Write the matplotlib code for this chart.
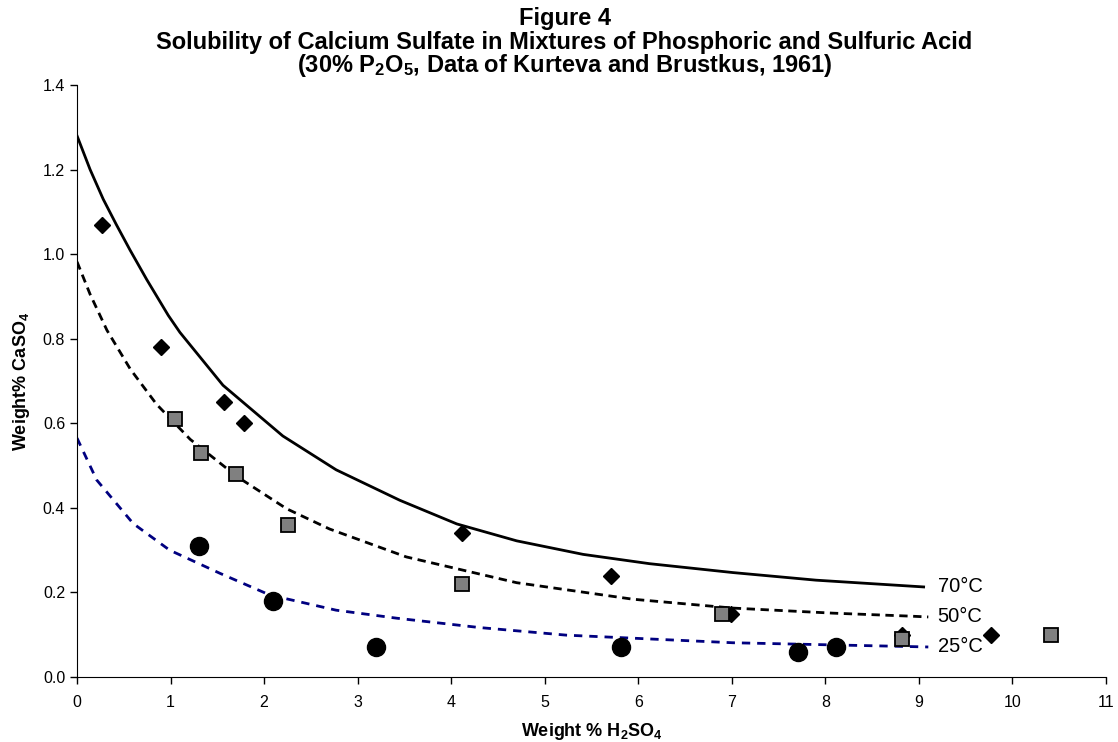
import matplotlib
matplotlib.use('Agg')
import matplotlib.pyplot as plt

plt.rcParams['font.family'] = ['Liberation Sans', 'DejaVu Sans']
plt.rcParams['mathtext.fontset'] = 'custom'
plt.rcParams['mathtext.rm'] = 'Liberation Sans:bold'
plt.rcParams['mathtext.default'] = 'rm'

# measured points (weight % H2SO4, weight % CaSO4)
x70 = [0.27, 0.90, 1.57, 1.78, 4.11, 5.71, 6.99, 8.82, 9.77]
y70 = [1.07, 0.78, 0.65, 0.60, 0.34, 0.24, 0.15, 0.10, 0.10]

x50 = [1.05, 1.32, 1.70, 2.25, 4.11, 6.90, 8.82, 10.41]
y50 = [0.61, 0.53, 0.48, 0.36, 0.22, 0.15, 0.09, 0.10]

x25 = [1.30, 2.10, 3.20, 5.81, 7.71, 8.11]
y25 = [0.31, 0.18, 0.07, 0.07, 0.06, 0.07]

# trend curves
cx70 = [0, 0.14, 0.28, 0.42, 0.566, 0.745, 0.976, 1.10, 1.56, 2.20, 2.77,
        3.45, 4.06, 4.70, 5.41, 6.12, 7.01, 7.9, 9.05]
cy70 = [1.28, 1.20, 1.13, 1.07, 1.01, 0.94, 0.855, 0.815, 0.69, 0.57, 0.49,
        0.418, 0.362, 0.322, 0.290, 0.268, 0.247, 0.229, 0.213]

cx50 = [0, 0.14, 0.32, 0.57, 0.85, 1.21, 1.71, 2.24, 2.70, 3.52, 4.70, 5.94,
        7.01, 8.08, 8.90, 9.1]
cy50 = [0.982, 0.905, 0.82, 0.728, 0.645, 0.562, 0.474, 0.398, 0.35, 0.284,
        0.223, 0.184, 0.163, 0.151, 0.144, 0.142]

cx25 = [0, 0.21, 0.60, 0.99, 1.53, 2.06, 2.77, 3.42, 4.3, 5.23, 7.01, 8.90, 9.1]
cy25 = [0.565, 0.466, 0.363, 0.30, 0.245, 0.194, 0.158, 0.139, 0.117, 0.099,
        0.081, 0.072, 0.071]

labels = ['70°C', '50°C', '25°C']
label_y = [0.215, 0.144, 0.071]

fig = plt.figure(figsize=(11.18, 7.42), dpi=100)
ax = fig.add_axes([0.0689, 0.0876, 0.9204, 0.7978])

ax.plot(cx70, cy70, color='black', lw=2)
ax.plot(cx50, cy50, color='black', lw=2, dashes=(3, 2))
ax.plot(cx25, cy25, color='#000080', lw=2, dashes=(3, 2.5))

ax.plot(x70, y70, 'D', color='black', markersize=8.5, linestyle='none')
ax.plot(x50, y50, 's', markerfacecolor='#808080', markeredgecolor='black',
        markeredgewidth=1.3, markersize=10, linestyle='none')
ax.plot(x25, y25, 'o', color='black', markersize=13, linestyle='none')

for lab, yy in zip(labels, label_y):
    ax.text(9.2, yy, lab, fontsize=14.5, va='center', ha='left')

ax.set_xlim(0, 11)
ax.set_ylim(0, 1.4)
ax.set_xticks(range(0, 12))
ax.set_yticks([0, 0.2, 0.4, 0.6, 0.8, 1.0, 1.2, 1.4])
ax.set_yticklabels(['%.1f' % v for v in ax.get_yticks()])
ax.tick_params(direction='out', labelsize=11.5, length=5, width=1)
ax.tick_params(axis='x', pad=8)
ax.spines['top'].set_visible(False)
ax.spines['right'].set_visible(False)

ax.set_xlabel('Weight % H$_2$SO$_4$', fontsize=13, fontweight='bold', labelpad=8)
ax.set_ylabel('Weight% CaSO$_4$', fontsize=13, fontweight='bold', labelpad=8)

fig.text(0.505, 0.975, 'Figure 4', fontsize=17, fontweight='bold',
         ha='center', va='center')
fig.text(0.505, 0.943, 'Solubility of Calcium Sulfate in Mixtures of Phosphoric and Sulfuric Acid',
         fontsize=17, fontweight='bold', ha='center', va='center')
fig.text(0.505, 0.912, '(30% P$_2$O$_5$, Data of Kurteva and Brustkus, 1961)',
         fontsize=17, fontweight='bold', ha='center', va='center')

fig.savefig('out.png', dpi=100)
